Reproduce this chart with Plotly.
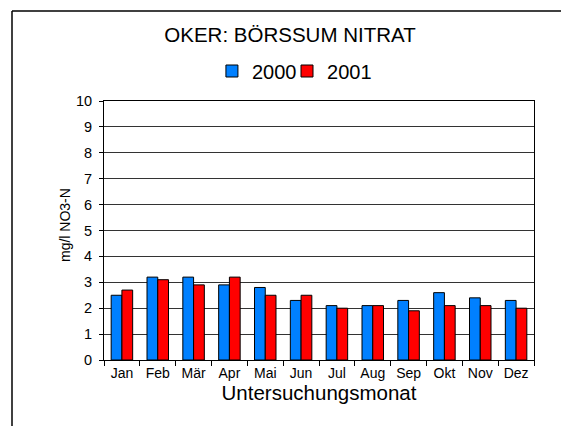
import plotly.graph_objects as go

# monthly nitrate values, Oker at Börßum
months = ["Jan", "Feb", "Mär", "Apr", "Mai", "Jun", "Jul", "Aug", "Sep", "Okt", "Nov", "Dez"]
nitrat_2000 = [2.5, 3.2, 3.2, 2.9, 2.8, 2.3, 2.1, 2.1, 2.3, 2.6, 2.4, 2.3]
nitrat_2001 = [2.7, 3.1, 2.9, 3.2, 2.5, 2.5, 2.0, 2.1, 1.9, 2.1, 2.1, 2.0]

font = "Arial, Liberation Sans, sans-serif"

fig = go.Figure()
fig.add_trace(go.Bar(x=months, y=nitrat_2000, name="2000", legend="legend",
                     marker=dict(color="#0080FF", line=dict(color="black", width=1))))
fig.add_trace(go.Bar(x=months, y=nitrat_2001, name="2001", legend="legend2",
                     marker=dict(color="#FF0000", line=dict(color="black", width=1))))

# the page body has an 8px margin, so the figure is laid out 8px up/left
leg_y = (352 - 63) / 259
fig.update_layout(
    width=569, height=426,
    margin=dict(l=96, r=43, t=93, b=74),
    paper_bgcolor="white", plot_bgcolor="white",
    font=dict(family=font, color="black", size=14),
    title=dict(text="OKER: BÖRSSUM NITRAT", x=282/569, xanchor="center",
               y=1-27/426, yanchor="middle", yref="container",
               font=dict(size=20.5, family=font, color="black")),
    showlegend=True,
    # one legend per series so the two entries sit close together like the original
    legend=dict(x=0.251, xanchor="left", y=leg_y, yanchor="middle", font=dict(size=20),
                bgcolor="rgba(0,0,0,0)"),
    legend2=dict(x=0.4256, xanchor="left", y=leg_y, yanchor="middle", font=dict(size=20),
                 bgcolor="rgba(0,0,0,0)"),
    bargap=0.4, bargroupgap=0,
    barmode="group",
)

fig.update_yaxes(range=[0, 10], dtick=1, tick0=0, showgrid=True, gridcolor="#333333", gridwidth=1,
                 showline=True, linecolor="black", linewidth=1, mirror=True,
                 ticks="outside", ticklen=4, tickcolor="black", ticklabelstandoff=4,
                 tickfont=dict(size=14.5), zeroline=False)
fig.update_xaxes(showline=True, linecolor="black", linewidth=1, mirror=True,
                 ticks="outside", tickson="boundaries", ticklen=5, tickcolor="black",
                 title=dict(text="Untersuchungsmonat", font=dict(size=20.5), standoff=0),
                 tickfont=dict(size=14))

# y axis title sits a little above the plot centre in the original
fig.add_annotation(text="mg/l NO3-N", textangle=-90, showarrow=False,
                   xref="paper", yref="paper", x=(57 - 96) / 430, y=(352 - 217) / 259,
                   xanchor="center", yanchor="middle", font=dict(size=14))

# outer chart frame (cut off at the right and bottom edges)
fx = (4 - 96) / 430
fy = (352 - 3) / 259
fig.add_shape(type="line", xref="paper", yref="paper",
              x0=fx, x1=1.2, y0=fy, y1=fy,
              line=dict(color="black", width=1.5))
fig.add_shape(type="line", xref="paper", yref="paper",
              x0=fx, x1=fx, y0=fy, y1=-0.4,
              line=dict(color="black", width=1.5))

fig.write_html("out.html")
